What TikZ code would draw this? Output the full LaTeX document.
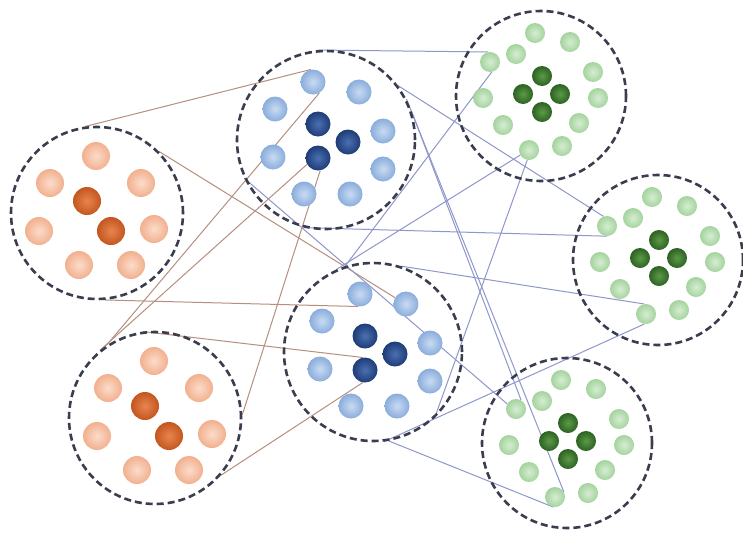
\documentclass[tikz,border=0pt]{standalone}
\usetikzlibrary{backgrounds}
\definecolor{zonec}{HTML}{3A3D4E}
\definecolor{brownl}{HTML}{B58F7F}
\definecolor{bluel}{HTML}{8E97CC}
\definecolor{olin}{HTML}{FBDCCB}
\definecolor{olout}{HTML}{F2B08E}
\definecolor{odin}{HTML}{E8854F}
\definecolor{odout}{HTML}{C4561F}
\definecolor{blin}{HTML}{C9DBF2}
\definecolor{blout}{HTML}{8AADDC}
\definecolor{bdin}{HTML}{4B70B2}
\definecolor{bdout}{HTML}{1E3C77}
\definecolor{glin}{HTML}{D6EDD2}
\definecolor{glout}{HTML}{A4D39E}
\definecolor{gdin}{HTML}{5C9B49}
\definecolor{gdout}{HTML}{2D6222}
\tikzset{
  zone/.style={circle, draw=zonec, line width=2.6pt, dash pattern=on 7pt off 4pt, minimum size=#1, inner sep=0pt},
  olight/.style={circle, inner sep=0pt, minimum size=28pt, inner color=olin, outer color=olout},
  odark/.style={circle, inner sep=0pt, minimum size=28pt, inner color=odin, outer color=odout},
  blight/.style={circle, inner sep=0pt, minimum size=25pt, inner color=blin, outer color=blout},
  bdark/.style={circle, inner sep=0pt, minimum size=25pt, inner color=bdin, outer color=bdout},
  glight/.style={circle, inner sep=0pt, minimum size=20pt, inner color=glin, outer color=glout},
  gdark/.style={circle, inner sep=0pt, minimum size=20pt, inner color=gdin, outer color=gdout},
  bline/.style={draw=brownl, line width=1pt},
  uline/.style={draw=bluel, line width=1pt},
}
\newcommand\placeorange[3]{%
  \node[zone=172pt] (#1) at (#2,#3) {};
  \begin{scope}[shift={(#2,#3)}]
    \foreach \px/\py [count=\i] in {-1/-57,-47/-30,44/-30,-58/18,57/16,-18/52,34/52}
      \node[olight] (#1-\i) at (\px,\py) {};
    \foreach \px/\py [count=\i] in {-10/-12,14/18}
      \node[odark] (#1-d\i) at (\px,\py) {};
  \end{scope}}
\newcommand\placeblue[3]{%
  \node[zone=178pt] (#1) at (#2,#3) {};
  \begin{scope}[shift={(#2,#3)}]
    \foreach \px/\py [count=\i] in {-13/-58,33/-48,-51/-31,57/-9,-53/17,57/29,-22/54,24/54}
      \node[blight] (#1-\i) at (\px,\py) {};
    \foreach \px/\py [count=\i] in {-8/-16,22/2,-8/18}
      \node[bdark] (#1-d\i) at (\px,\py) {};
  \end{scope}}
\newcommand\placegreen[3]{%
  \node[zone=170pt] (#1) at (#2,#3) {};
  \begin{scope}[shift={(#2,#3)}]
    \foreach \px/\py [count=\i] in {-6/-63,29/-54,-25/-42,-51/-34,52/-24,-58/2,57/2,-38/29,38/27,-12/54,21/50}
      \node[glight] (#1-\i) at (\px,\py) {};
    \foreach \px/\py [count=\i] in {1/-20,-18/-2,19/-2,1/16}
      \node[gdark] (#1-d\i) at (\px,\py) {};
  \end{scope}}
\begin{document}
\begin{tikzpicture}[x=1pt,y=-1pt]
\useasboundingbox (0,0) rectangle (743,536);
\placeorange{O1}{97}{213}
\placeorange{O2}{155}{418}
\placeblue{B1}{326}{140}
\placeblue{B2}{373}{352}
\placegreen{G1}{541}{96}
\placegreen{G2}{658}{260}
\placegreen{G3}{567}{443}
\begin{scope}[on background layer]
  \fill[white] (0,0) rectangle (743,536);
  % orange to blue
  \draw[bline] (O1.98) -- (B1-1.100);
  \draw[bline] (O1.45) -- (B2-2.150);
  \draw[bline] (O1.-85) -- (B2-1.-100);
  \draw[bline] (O2.124) -- (B1-1.-60);
  \draw[bline] (O2.129) -- (B1-d3.-150);
  \draw[bline] (O2.2) -- (B1-d3.-80);
  \draw[bline] (O2.98) -- (B2-d3.100);
  \draw[bline] (O2.-41) -- (B2-d3.-100);
  % blue to green
  \draw[uline] (B1.95) -- (G1-4.100);
  \draw[uline] (B1.37) -- (G2-4.110);
  \draw[uline] (B1.-104) -- (G2-4.-90);
  \draw[uline] (B2.108) -- (G1-4.-80);
  \draw[uline] (B2.-47) -- (G1-10.-100);
  \draw[uline] (B2.114) -- (G1-10.-150);
  \draw[uline] (B1.27) -- (G3-10.30);
  \draw[uline] (B1.18) -- (G3-4.60);
  \draw[uline] (B1.205) -- (G3-4.150);
  \draw[uline] (B2.72) -- (G2-10.100);
  \draw[uline] (B2.-83) -- (G2-10.-100);
  \draw[uline] (B2.-80) -- (G3-10.-100);
\end{scope}
\end{tikzpicture}
\end{document}
